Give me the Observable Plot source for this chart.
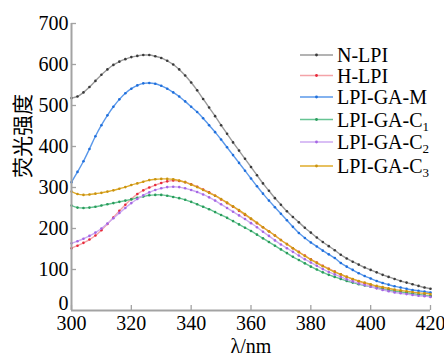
<!DOCTYPE html>
<html><head><meta charset="utf-8">
<script src="https://cdn.jsdelivr.net/npm/d3@7"></script>
<script src="https://cdn.jsdelivr.net/npm/@observablehq/plot@0.6"></script>
<style>body{margin:0;background:#fff} #chart{width:444px;height:358px}
#chart svg text, #chart svg tspan{font-family:"Liberation Serif","Times New Roman","DejaVu Serif",serif}
#chart svg text.cjk{font-family:"Noto Sans CJK SC",sans-serif}
</style>
</head><body><div id="chart"></div>
<script>
const wavelengths = [300,302,304,306,308,310,312,314,316,318,320,322,324,326,328,330,332,334,336,338,340,342,344,346,348,350,352,354,356,358,360,362,364,366,368,370,372,374,376,378,380,382,384,386,388,390,392,394,396,398,400,402,404,406,408,410,412,414,416,418,420];
const seriesNames = ["N-LPI","H-LPI","LPI-GA-M","LPI-GA-C1","LPI-GA-C2","LPI-GA-C3"];
const nLPI = [518,522,532,545,560,575,588,599,607,613, 618,621,623,623,620,616,609,600,588,573, 556,537,516,495,474,452,431,410,390,370, 350,330,310,292,274,258,242,228,215,202, 190,178,167,157,147,136,127,119,112,105, 99,93,87,82,77,72,68,64,60,56, 53];
const hLPI = [152,158,165,173,183,196,211,227,243,258, 272,284,293,300,306,311,315,317,316,313, 308,302,295,288,280,271,262,253,243,233, 223,213,203,193,183,172,162,152,143,134, 125,117,109,102,95,88,82,76,71,66, 62,58,54,51,48,45,43,41,39,37, 35];
const gaM = [313,338,364,394,425,452,476,497,515,530, 541,549,554,555,553,548,541,532,522,510, 497,484,469,452,435,417,398,379,360,341, 322,303,285,268,252,236,220,204,189,177, 166,156,146,137,128,116,107,99,91,84, 78,72,67,63,59,56,53,50,48,46, 44];
const gaC1 = [256,251,250,251,253,256,259,262,265,268, 271,275,278,281,282,282,280,277,274,270, 265,259,253,247,240,233,226,218,210,202, 194,185,176,167,158,149,140,131,123,115, 107,100,93,87,82,77,72,68,64,61, 58,55,52,49,47,45,43,41,39,37, 35];
const gaC2 = [164,169,175,182,190,200,212,225,238,250, 262,272,281,288,294,298,301,302,301,298, 294,289,283,276,268,259,250,241,232,223, 213,203,192,182,171,161,152,143,134,125, 117,109,101,94,88,82,76,71,66,62, 58,54,50,47,44,42,40,38,36,35, 33];
const gaC3 = [290,284,282,283,285,287,290,293,297,301, 306,310,314,318,320,321,321,320,317,313, 307,301,294,287,280,272,263,254,245,235, 224,214,203,193,183,172,162,152,142,133, 124,116,108,101,94,88,82,77,72,68, 64,60,57,54,51,49,47,45,43,42, 40];
const seriesValues = [nLPI, hLPI, gaM, gaC1, gaC2, gaC3];
const lineColors = ["#9a9a9a","#f4a3a8","#5a98ea","#66c493","#cdaaf2","#dfab2a"];
const dotColors  = ["#3a3a3a","#e8283a","#1f6fdc","#2a9c5c","#a566e4","#c99210"];
const xTicks = [300,320,340,360,380,400,420];
const yTicks = [100,200,300,400,500,600,700];
const zeroTick = [0];
const xLabel = "λ/nm";
const yLabel = "荧光强度";

const rows = [];
seriesValues.forEach((vals, i) => vals.forEach((v, j) => rows.push({series: seriesNames[i], x: wavelengths[j], y: v})));

const marks = [];
seriesNames.forEach((name, i) => {
  const d = rows.filter(r => r.series === name);
  marks.push(Plot.line(d, {x: "x", y: "y", stroke: lineColors[i], strokeWidth: 1.4, curve: "catmull-rom"}));
  marks.push(Plot.dot(d, {x: "x", y: "y", r: 1.3, fill: dotColors[i]}));
});

const plot = Plot.plot({
  width: 444, height: 358,
  marginLeft: 71, marginRight: 14, marginTop: 23, marginBottom: 48,
  style: {fontSize: "20px", color: "#000", background: "#fff", overflow: "visible"},
  x: {domain: [300, 420]},
  y: {domain: [0, 700]},
  marks: [
    ...marks,
    Plot.ruleX([300], {y1: 0, y2: 700, stroke: "#a3a3a3", strokeWidth: 2}),
    Plot.ruleY([0], {x1: 300, x2: 420, stroke: "#a3a3a3", strokeWidth: 2}),
    Plot.axisX(xTicks, {tickSize: -5, tickPadding: 10, stroke: "#a3a3a3", strokeWidth: 1.3, fill: "#000", fontSize: 20, label: xLabel, labelAnchor: "center", labelArrow: "none", labelOffset: 42}),
    Plot.axisY(yTicks, {tickSize: -5, tickPadding: 8, stroke: "#a3a3a3", strokeWidth: 1.3, fill: "#000", fontSize: 20, label: null}),
    Plot.axisY(zeroTick, {tickSize: 0, tickPadding: 3, fill: "#000", fontSize: 20, dy: -7, label: null}),
    Plot.text([yLabel], {frameAnchor: "left", dx: -48, dy: 11, rotate: -90, fontSize: 21, fill: "#000"})
  ]
});
document.getElementById("chart").appendChild(plot);
d3.select(plot).selectAll("text").filter(function(){ return this.textContent === yLabel; }).classed("cjk", true);

// legend
const svg = d3.select(plot);
const legendY = [55, 75.5, 97, 119.5, 142, 166];
const legendLabels = [["N-LPI",""],["H-LPI",""],["LPI-GA-M",""],["LPI-GA-C","1"],["LPI-GA-C","2"],["LPI-GA-C","3"]];
const lg = svg.append("g").attr("font-size", 20).attr("fill", "#000").attr("text-anchor", "start");
legendLabels.forEach(([main, sub], i) => {
  const y = legendY[i];
  lg.append("line").attr("x1", 300).attr("x2", 333).attr("y1", y).attr("y2", y).attr("stroke", lineColors[i]).attr("stroke-width", 1.5);
  lg.append("circle").attr("cx", 316.5).attr("cy", y).attr("r", 1.4).attr("fill", dotColors[i]);
  const t = lg.append("text").attr("x", 337).attr("y", y + 7).attr("text-anchor", "start");
  t.append("tspan").text(main);
  if (sub) t.append("tspan").attr("font-size", 13).attr("dy", 4).text(sub);
});
</script>
</body></html>
